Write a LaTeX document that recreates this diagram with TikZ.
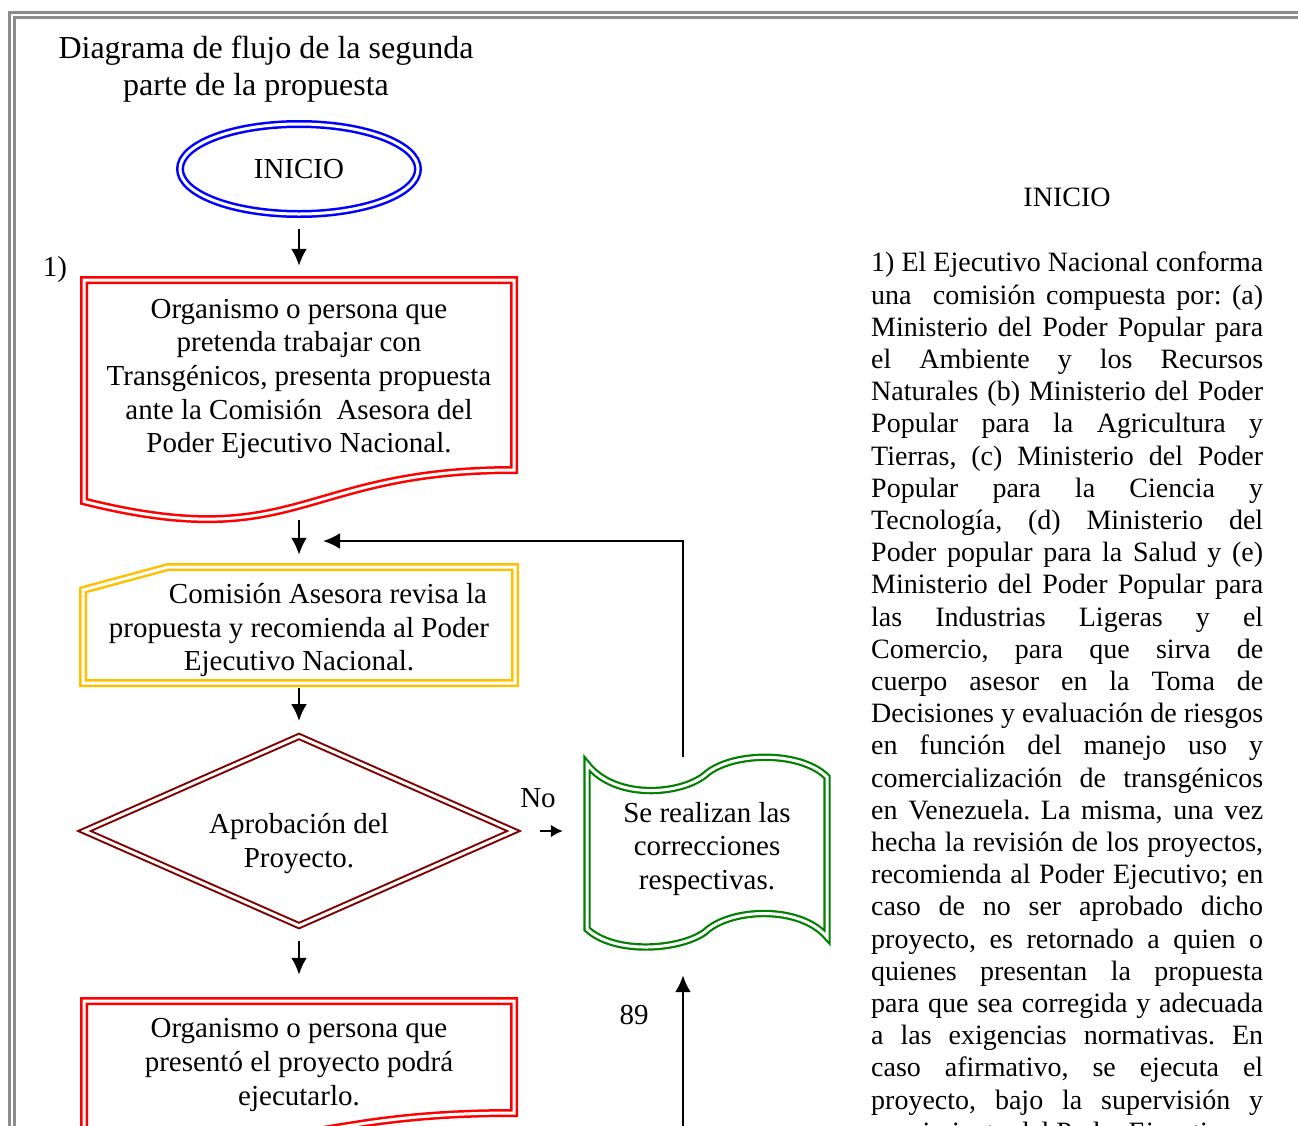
\documentclass[tikz,border=0pt]{standalone}
\usepackage{fontspec}
\setmainfont{Liberation Serif}
\usetikzlibrary{shapes.geometric,arrows.meta,positioning}
\definecolor{marco-gris}{RGB}{140,140,140}
\definecolor{flujo-amarillo}{RGB}{255,192,0}
\definecolor{flujo-granate}{RGB}{128,0,0}
\definecolor{flujo-verde}{RGB}{0,128,0}
\newcommand{\jlinea}[1]{\makebox[392pt][s]{#1}}
\tikzset{
  txt/.style={font=\fontsize{29}{33.7}\selectfont\frenchspacing, align=center, inner sep=0pt},
  doble/.style={double=white, double distance=3pt, line width=2.5pt, line join=miter},
  flecha/.style={-{Latex[length=17pt,width=16pt]}, line width=2.5pt},
  flechacorta/.style={-{Latex[length=12pt,width=13pt]}, line width=2.5pt},
}

\begin{document}
\begin{tikzpicture}[x=1pt,y=-1pt]
\clip (0,0) rectangle (1298,1125);
% marco de la pagina
\draw[marco-gris, double=white, double distance=2pt, line width=3pt, line join=miter] (11.75,1200) -- (11.75,15) -- (1400,15);

\node[txt, font=\fontsize{32}{36.8}\selectfont] (titulo) at (256,69) {\hspace*{20pt}Diagrama de flujo de la segunda\\parte de la propuesta};

\node[txt, ellipse, draw=blue, doble, minimum width=238pt, minimum height=90pt] (ini) at (299,169) {INICIO};
\node[txt] (uno) at (55,270) {1)};

\node[txt, minimum width=430pt, minimum height=190pt] (prop) at (299,379) {Organismo o persona que\\pretenda trabajar con\\Transgénicos, presenta propuesta\\ante la Comisión~ Asesora del\\Poder Ejecutivo Nacional.};
\draw[red, doble] (84,280) -- (514,280) -- (514,470) .. controls (299,470) and (299,555) .. (84,501.4) -- cycle;

\node[txt, minimum width=432pt, minimum height=116pt] (rev) at (299,630) {\hspace*{58pt}Comisión Asesora revisa la\\propuesta y recomienda al Poder\\Ejecutivo Nacional.};
\draw[flujo-amarillo, doble] (168,567) -- (515,567) -- (515,683) -- (83,683) -- (83,590) -- cycle;

\node[txt, diamond, draw=flujo-granate, double=white, double distance=3pt, line width=2pt, aspect=2.3, minimum width=430pt, minimum height=190pt] (apr) at (299,831) {\rule{0pt}{45pt}Aprobación del\\Proyecto.};
\node[txt] (no) at (538,798) {No};

\node[txt, minimum width=240pt, minimum height=170pt] (corr) at (707,849) {Se realizan las\\correcciones\\respectivas.};
\draw[flujo-verde, doble, line width=2.2pt] (587,764) .. controls (615,800) and (680,795) .. (705,775) .. controls (730,752) and (800,750) .. (827,777) -- (827,937) .. controls (800,905) and (730,908) .. (705,932) .. controls (680,950) and (615,955) .. (587,929) -- cycle;

\node[txt, minimum width=430pt, minimum height=122pt] (ejec) at (299,1065) {Organismo o persona que\\presentó el proyecto podrá\\ejecutarlo.};
\draw[red, doble] (84,1200) -- (84,1001) -- (514,1001) -- (514,1113) .. controls (299,1113) and (299,1163) .. (84,1131.4);
\node[txt] (pag) at (634,1015) {89};

% conectores
\draw[flecha, shorten <=14pt, shorten >=18pt] (ini) -- (prop);
\draw[flecha, shorten <=46pt, shorten >=17pt] (prop) -- (rev);
\draw[flecha, shorten >=14pt] (rev) -- (apr);
\draw[flecha, shorten <=14pt, shorten >=29pt] (apr) -- (ejec);
\draw[flechacorta, shorten <=25pt, shorten >=24pt] (apr.east) -- (apr.east -| corr.west);
\coordinate (retorno) at (683,757);
\coordinate (union) at (299,541);
\draw[flecha, shorten >=24pt] (retorno) |- (union);
\coordinate (abajo) at (683,1140);
\draw[flecha, shorten >=41pt] (abajo) -- (abajo |- corr.south);

% texto de la derecha
\node[font=\fontsize{28}{32.2}\selectfont, inner sep=0pt] (inicio2) at (1067,197) {INICIO};
\node[anchor=north west, inner sep=0pt, align=left, font=\fontsize{28}{32.2}\selectfont\frenchspacing] (texto) at (871,252) {%
\jlinea{1) El Ejecutivo Nacional conforma}\\
\jlinea{una~ comisión compuesta por: (a)}\\
\jlinea{Ministerio del Poder Popular para}\\
\jlinea{el Ambiente y los Recursos}\\
\jlinea{Naturales (b) Ministerio del Poder}\\
\jlinea{Popular para la Agricultura y}\\
\jlinea{Tierras, (c) Ministerio del Poder}\\
\jlinea{Popular para la Ciencia y}\\
\jlinea{Tecnología, (d) Ministerio del}\\
\jlinea{Poder popular para la Salud y (e)}\\
\jlinea{Ministerio del Poder Popular para}\\
\jlinea{las Industrias Ligeras y el}\\
\jlinea{Comercio, para que sirva de}\\
\jlinea{cuerpo asesor en la Toma de}\\
\jlinea{Decisiones y evaluación de riesgos}\\
\jlinea{en función del manejo uso y}\\
\jlinea{comercialización de transgénicos}\\
\jlinea{en Venezuela. La misma, una vez}\\
\jlinea{hecha la revisión de los proyectos,}\\
\jlinea{recomienda al Poder Ejecutivo; en}\\
\jlinea{caso de no ser aprobado dicho}\\
\jlinea{proyecto, es retornado a quien o}\\
\jlinea{quienes presentan la propuesta}\\
\jlinea{para que sea corregida y adecuada}\\
\jlinea{a las exigencias normativas. En}\\
\jlinea{caso afirmativo, se ejecuta el}\\
\jlinea{proyecto, bajo la supervisión y}\\
seguimiento del Poder Ejecutivo};
\end{tikzpicture}
\end{document}
